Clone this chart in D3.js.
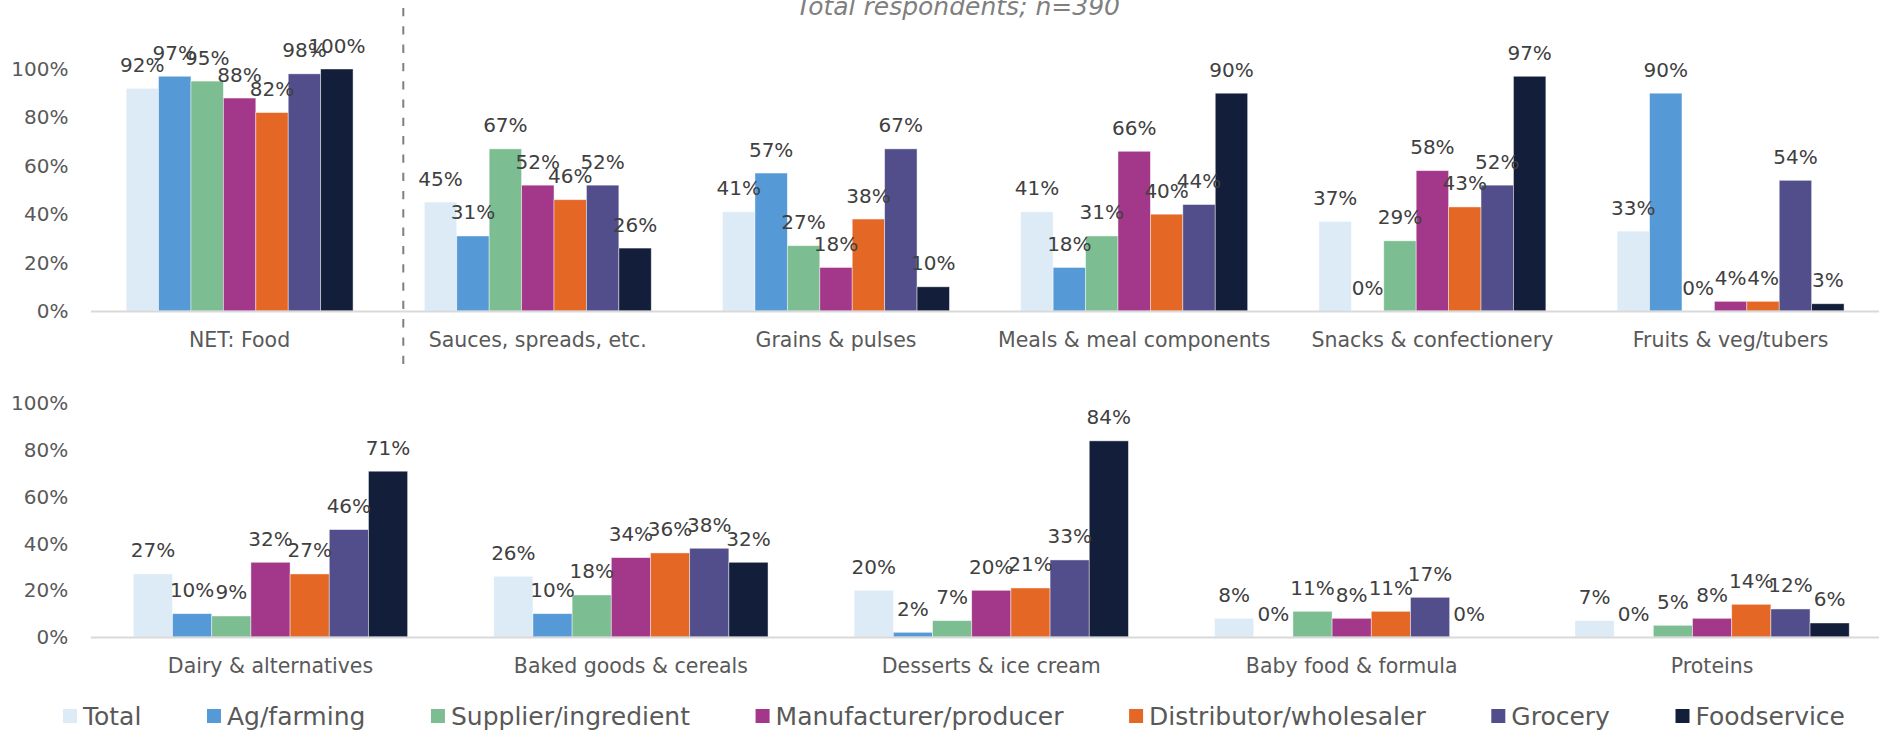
<!DOCTYPE html>
<html>
<head>
<meta charset="utf-8">
<script src="https://cdn.jsdelivr.net/npm/d3@7"></script>
<style>
  html, body { margin: 0; padding: 0; background: #ffffff; }
  svg { display: block; font-family: "DejaVu Sans", sans-serif; }
</style>
</head>
<body>
<svg id="chart" width="1879" height="731"></svg>
<script>
// Food categories, split over two rows of panels
const topCategories = [
  "NET: Food", "Sauces, spreads, etc.", "Grains & pulses",
  "Meals & meal components", "Snacks & confectionery", "Fruits & veg/tubers"
];
const bottomCategories = [
  "Dairy & alternatives", "Baked goods & cereals", "Desserts & ice cream",
  "Baby food & formula", "Proteins"
];

// Respondent segments
const seriesNames = [
  "Total", "Ag/farming", "Supplier/ingredient", "Manufacturer/producer",
  "Distributor/wholesaler", "Grocery", "Foodservice"
];

// Share of respondents (%), one value per category: top row then bottom row
const totalValues        = [92, 45, 41, 41, 37, 33, 27, 26, 20, 8, 7];
const agFarmingValues    = [97, 31, 57, 18, 0, 90, 10, 10, 2, 0, 0];
const supplierValues     = [95, 67, 27, 31, 29, 0, 9, 18, 7, 11, 5];
const manufacturerValues = [88, 52, 18, 66, 58, 4, 32, 34, 20, 8, 8];
const distributorValues  = [82, 46, 38, 40, 43, 4, 27, 36, 21, 11, 14];
const groceryValues      = [98, 52, 67, 44, 52, 54, 46, 38, 33, 17, 12];
const foodserviceValues  = [100, 26, 10, 90, 97, 3, 71, 32, 84, 0, 6];

const yTicks = [0, 20, 40, 60, 80, 100];
const subtitleText = "Total respondents; n=390";

// ---- styling ----
const seriesColors = ["#DDEBF7", "#559AD6", "#7DBD92", "#A3388A", "#E46726", "#524E8C", "#131F3A"];
const labelColor = "#404040";
const axisTextColor = "#595959";

const seriesValues = [totalValues, agFarmingValues, supplierValues, manufacturerValues,
                      distributorValues, groceryValues, foodserviceValues];

const svg = d3.select("#chart");
svg.append("rect").attr("width", 1879).attr("height", 731).attr("fill", "#fff");

// panel layout
const panels = [
  { categories: topCategories, offset: 0, yZero: 311, yFull: 69, xStart: 90.5, step: 298.2 },
  { categories: bottomCategories, offset: topCategories.length, yZero: 637, yFull: 403.5, xStart: 90.3, step: 360.4 }
];

const groupPad = 0.239;

panels.forEach(p => {
  const n = p.categories.length;
  const x = d3.scaleBand()
    .domain(p.categories)
    .range([p.xStart, p.xStart + n * p.step])
    .paddingInner(groupPad)
    .paddingOuter(groupPad / 2);
  const xs = d3.scaleBand()
    .domain(seriesNames)
    .range([0, x.bandwidth()]);
  const y = d3.scaleLinear().domain([0, 100]).range([p.yZero, p.yFull]);

  // y axis labels
  const yAxis = svg.append("g")
    .attr("transform", `translate(${p.xStart},0)`)
    .call(d3.axisLeft(y).tickValues(yTicks).tickFormat(d => d + "%").tickSize(0).tickPadding(22));
  yAxis.select(".domain").remove();
  yAxis.selectAll("text")
    .attr("font-family", "DejaVu Sans")
    .attr("font-size", 20)
    .attr("fill", axisTextColor);

  // bars
  const groups = svg.append("g").selectAll("g")
    .data(p.categories)
    .join("g")
    .attr("transform", d => `translate(${x(d)},0)`);

  groups.each(function (cat, ci) {
    const idx = p.offset + ci;
    const rows = seriesNames.map((s, si) => ({ s, si, v: seriesValues[si][idx] }));
    const g = d3.select(this);
    g.selectAll("rect")
      .data(rows)
      .join("rect")
      .attr("x", d => xs(d.s))
      .attr("y", d => y(d.v))
      .attr("width", xs.bandwidth())
      .attr("height", d => y(0) - y(d.v))
      .attr("fill", d => seriesColors[d.si])
      .attr("stroke", "#ffffff")
      .attr("stroke-opacity", 0.55)
      .attr("stroke-width", 0.8);
  });

  // x axis (baseline + category names)
  const xAxis = svg.append("g")
    .attr("transform", `translate(0,${p.yZero})`)
    .call(d3.axisBottom(x).tickSize(0).tickSizeOuter(0).tickPadding(21));
  xAxis.select(".domain").attr("stroke", "#D9D9D9").attr("stroke-width", 2);
  xAxis.selectAll("text")
    .attr("font-family", "DejaVu Sans")
    .attr("font-size", 20.5)
    .attr("fill", axisTextColor);

  // value labels
  groups.each(function (cat, ci) {
    const idx = p.offset + ci;
    const rows = seriesNames.map((s, si) => ({ s, si, v: seriesValues[si][idx] }));
    d3.select(this).selectAll("text.val")
      .data(rows)
      .join("text")
      .attr("class", "val")
      .attr("x", d => xs(d.s) + xs.bandwidth() / 2)
      .attr("y", d => y(d.v) - 16.5)
      .attr("text-anchor", "middle")
      .attr("font-family", "DejaVu Sans")
      .attr("font-size", 20)
      .attr("fill", labelColor)
      .text(d => d.v + "%");
  });
});

// dashed divider between the NET column and the individual categories
const dividerX = 403.3;
svg.append("line")
  .attr("x1", dividerX).attr("x2", dividerX)
  .attr("y1", 8).attr("y2", 368)
  .attr("stroke", "#7F7F7F")
  .attr("stroke-width", 2)
  .attr("stroke-dasharray", "8.3,10");

// subtitle (its upper part runs past the top edge)
svg.append("text")
  .attr("x", 958).attr("y", 15)
  .attr("text-anchor", "middle")
  .attr("font-family", "DejaVu Sans")
  .attr("font-style", "italic")
  .attr("font-size", 25)
  .attr("fill", "#7F7F7F")
  .text(subtitleText);

// legend: items spread evenly between the left and right limits
const legendLeft = 63, legendRight = 1845, swatchSize = 14, swatchGap = 6;
const legend = svg.append("g");
const items = seriesNames.map((name, i) => {
  const item = legend.append("g");
  item.append("rect")
    .attr("x", 0).attr("y", 709)
    .attr("width", swatchSize).attr("height", swatchSize)
    .attr("fill", seriesColors[i]);
  const t = item.append("text")
    .attr("x", swatchSize + swatchGap).attr("y", 725)
    .attr("font-family", "DejaVu Sans")
    .attr("font-size", 25)
    .attr("fill", axisTextColor)
    .text(name);
  return { item, w: swatchSize + swatchGap + t.node().getComputedTextLength() };
});
const usedWidth = d3.sum(items, d => d.w);
const itemGap = (legendRight - legendLeft - usedWidth) / (items.length - 1);
let lx = legendLeft;
items.forEach(d => {
  d.item.attr("transform", `translate(${lx},0)`);
  lx += d.w + itemGap;
});
</script>
</body>
</html>
